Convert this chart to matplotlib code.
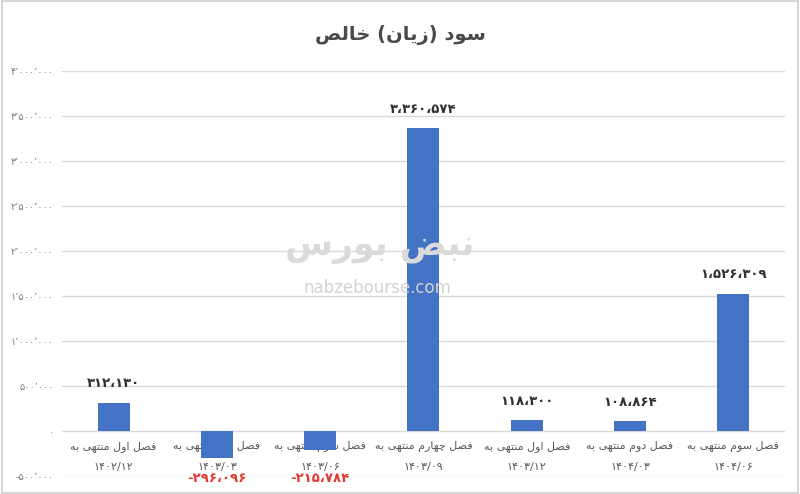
import matplotlib
matplotlib.use("Agg")
import matplotlib.pyplot as plt
from matplotlib.ticker import FuncFormatter, MultipleLocator
from matplotlib.patches import Rectangle

# chart data
values = [312130, -296096, -215784, 3360574, 118300, 108864, 1526309]
cat_text = ["فصل اول منتهی به", "فصل دوم منتهی به", "فصل سوم منتهی به",
            "فصل چهارم منتهی به", "فصل اول منتهی به", "فصل دوم منتهی به",
            "فصل سوم منتهی به"]
cat_dates = ["1402/12", "1403/03", "1403/06", "1403/09",
             "1403/12", "1404/03", "1404/06"]
title = "سود (زیان) خالص"

# --- tiny arabic shaper (matplotlib draws glyphs without shaping) ---
FORMS = {  # isolated, final, initial, medial
    "ا": (0xFE8D, 0xFE8E, None, None),
    "ب": (0xFE8F, 0xFE90, 0xFE91, 0xFE92),
    "ت": (0xFE95, 0xFE96, 0xFE97, 0xFE98),
    "خ": (0xFEA5, 0xFEA6, 0xFEA7, 0xFEA8),
    "د": (0xFEA9, 0xFEAA, None, None),
    "ر": (0xFEAD, 0xFEAE, None, None),
    "ز": (0xFEAF, 0xFEB0, None, None),
    "س": (0xFEB1, 0xFEB2, 0xFEB3, 0xFEB4),
    "ص": (0xFEB9, 0xFEBA, 0xFEBB, 0xFEBC),
    "ض": (0xFEBD, 0xFEBE, 0xFEBF, 0xFEC0),
    "ف": (0xFED1, 0xFED2, 0xFED3, 0xFED4),
    "ل": (0xFEDD, 0xFEDE, 0xFEDF, 0xFEE0),
    "م": (0xFEE1, 0xFEE2, 0xFEE3, 0xFEE4),
    "ن": (0xFEE5, 0xFEE6, 0xFEE7, 0xFEE8),
    "ه": (0xFEE9, 0xFEEA, 0xFEEB, 0xFEEC),
    "و": (0xFEED, 0xFEEE, None, None),
    "ی": (0xFBFC, 0xFBFD, 0xFBFE, 0xFBFF),
    "چ": (0xFB7A, 0xFB7B, 0xFB7C, 0xFB7D),
}


def dual(c):
    return c in FORMS and FORMS[c][2] is not None


def shape(s):
    out = []
    for i, c in enumerate(s):
        if c not in FORMS:
            out.append(c)
            continue
        prev = s[i - 1] if i > 0 else ""
        nxt = s[i + 1] if i + 1 < len(s) else ""
        jp = dual(prev)
        jn = dual(c) and nxt in FORMS
        f = FORMS[c]
        if jp and jn:
            out.append(chr(f[3]))
        elif jp:
            out.append(chr(f[1]))
        elif jn:
            out.append(chr(f[2]))
        else:
            out.append(chr(f[0]))
    vis = "".join(reversed(out))
    return vis.translate(str.maketrans("()", ")("))


FA = str.maketrans("0123456789", "۰۱۲۳۴۵۶۷۸۹")


def fa_num(v, sep="،"):
    s = f"{abs(int(v)):,}".replace(",", sep).translate(FA)
    return ("-" + s) if v < 0 else s


plt.rcParams["font.family"] = ["DejaVu Sans"]

fig = plt.figure(figsize=(8, 4.94), dpi=100)
ax = fig.add_axes([0.0775, 0.0364, 0.9037, 0.82])

x = list(range(len(values)))
ax.bar(x, values, width=0.31, color="#4472C4", zorder=3)

ax.set_xlim(-0.5, len(values) - 0.5)
ax.set_ylim(-500000, 4000000)
ax.yaxis.set_major_locator(MultipleLocator(500000))
ax.yaxis.set_major_formatter(FuncFormatter(lambda v, p: fa_num(v, "٬")))
ax.grid(axis="y", color="#d9d9d9", linewidth=1, zorder=0)
ax.set_xticks([])
for sp in ax.spines.values():
    sp.set_visible(False)
ax.tick_params(axis="y", length=0, labelsize=7, labelcolor="#7f7f7f", pad=6)

# category labels sit at the zero line, under the bars
for i in x:
    ax.annotate(shape(cat_text[i]), (i, 0), xytext=(0, -7), textcoords="offset points",
                ha="center", va="top", fontsize=8, color="#595959", zorder=1)
    ax.annotate(cat_dates[i].translate(FA), (i, 0), xytext=(0, -22), textcoords="offset points",
                ha="center", va="top", fontsize=8, color="#595959", zorder=1)

# data labels
for i, v in zip(x, values):
    if v >= 0:
        ax.annotate(fa_num(v), (i, v), xytext=(0, 9), textcoords="offset points",
                    ha="center", va="bottom", fontsize=9.5, color="#303030", fontweight="bold")
    else:
        # excel put the negative labels under the category text
        ax.annotate(fa_num(v), (i, 0), xytext=(0, -34), textcoords="offset points",
                    ha="center", va="center", fontsize=9.5, color="#e03a2f", fontweight="bold")

# watermark
fig.text(0.475, 0.50, shape("نبض بورس"), ha="center", va="center", fontsize=25,
         color="#dadada", fontweight="bold", zorder=0)
fig.text(0.472, 0.418, "nabzebourse.com", ha="center", va="center", fontsize=12,
         color="#d2d2d2", zorder=0)

fig.text(0.5, 0.93, shape(title), ha="center", va="center", fontsize=14,
         color="#4a4a4a", fontweight="bold")

fig.patches.append(Rectangle((0.002, 0.003), 0.996, 0.994, transform=fig.transFigure,
                             fill=False, edgecolor="#d0d0d0", linewidth=1.2))

fig.savefig("out.png", dpi=100, facecolor="white")
